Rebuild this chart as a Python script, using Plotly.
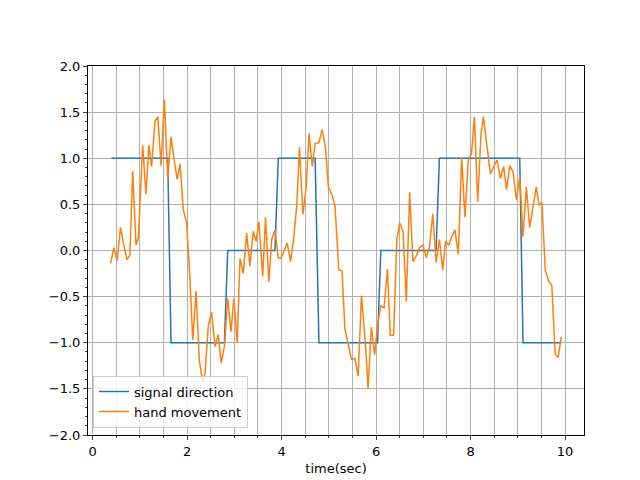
import plotly.graph_objects as go

# signal direction (step)
sig_x = [0.40, 1.59, 1.66, 2.79, 2.86, 3.86, 3.93, 4.71, 4.79, 6.03, 6.10, 7.27, 7.34, 9.04, 9.11, 9.92]
sig_y = [1, 1, -1, -1, 0, 0, 1, 1, -1, -1, 0, 0, 1, 1, -1, -1]

# hand movement
hand_x = [0.38, 0.45, 0.52, 0.59, 0.66, 0.73, 0.79, 0.85, 0.92, 0.97, 1.06, 1.13, 1.19, 1.25, 1.32, 1.38,
          1.45, 1.52, 1.59, 1.66, 1.72, 1.79, 1.85, 1.92, 1.99, 2.06, 2.12, 2.19, 2.26, 2.33, 2.38, 2.45,
          2.52, 2.59, 2.66, 2.72, 2.79, 2.86, 2.93, 2.99, 3.06, 3.12, 3.19, 3.26, 3.33, 3.40, 3.46, 3.52,
          3.60, 3.66, 3.73, 3.79, 3.86, 3.93, 3.99, 4.06, 4.12, 4.19, 4.26, 4.32, 4.38, 4.45, 4.52, 4.58,
          4.65, 4.71, 4.79, 4.86, 4.93, 4.99, 5.07, 5.13, 5.21, 5.28, 5.34, 5.41, 5.48, 5.55, 5.62, 5.69,
          5.77, 5.83, 5.90, 5.97, 6.03, 6.10, 6.17, 6.24, 6.30, 6.37, 6.44, 6.50, 6.57, 6.64, 6.71, 6.78,
          6.85, 6.92, 6.99, 7.06, 7.13, 7.20, 7.27, 7.34, 7.41, 7.47, 7.54, 7.60, 7.67, 7.74, 7.81, 7.88,
          7.95, 8.02, 8.08, 8.15, 8.22, 8.27, 8.34, 8.42, 8.49, 8.56, 8.63, 8.70, 8.76, 8.83, 8.90, 8.97,
          9.04, 9.11, 9.18, 9.25, 9.32, 9.39, 9.45, 9.51, 9.58, 9.65, 9.72, 9.79, 9.85, 9.92]
hand_y = [-0.14, 0.03, -0.11, 0.25, 0.06, -0.10, -0.05, 0.86, 0.06, 0.14, 1.14, 0.61, 1.14, 0.91, 1.40, 1.45,
          0.92, 1.64, 0.78, 1.23, 1.00, 0.77, 0.94, 0.44, 0.30, -0.30, -0.97, -0.44, -1.20, -1.42, -1.33, -0.81,
          -0.67, -1.04, -0.91, -1.22, -1.04, -0.52, -0.88, -0.52, -1.00, -0.09, -0.25, 0.19, -0.17, 0.21, 0.10, 0.31,
          -0.28, 0.36, -0.34, 0.12, 0.22, -0.08, -0.08, 0.00, 0.08, -0.12, 0.15, 0.48, 1.12, 0.39, 0.68, 1.27,
          0.91, 1.16, 1.17, 1.31, 1.11, 0.69, 0.60, 0.48, -0.21, -0.22, -0.85, -1.02, -1.18, -1.17, -1.36, -0.49,
          -0.99, -1.49, -0.83, -1.13, -0.81, -0.60, -0.62, -0.20, -0.92, -0.92, 0.12, 0.30, 0.21, -0.55, 0.63, -0.12,
          -0.06, 0.03, 0.06, -0.08, 0.04, 0.40, -0.13, 0.12, -0.21, 0.10, 0.06, 0.15, 0.22, -0.04, 1.01, 0.36,
          0.98, 1.05, 1.45, 0.53, 1.26, 1.45, 1.14, 0.83, 0.91, 0.98, 0.78, 0.91, 0.66, 0.92, 0.85, 0.55,
          0.80, 0.15, 0.69, 0.25, 0.47, 0.69, 0.49, 0.52, -0.21, -0.33, -0.38, -1.13, -1.16, -0.94]

fig = go.Figure()
fig.add_trace(go.Scatter(x=sig_x, y=sig_y, mode='lines', name='signal direction',
                         line=dict(color='#1f77b4', width=1.5)))
fig.add_trace(go.Scatter(x=hand_x, y=hand_y, mode='lines', name='hand movement',
                         line=dict(color='#ff7f0e', width=1.5)))

fig.update_layout(
  width=640, height=480,
  margin=dict(l=80, r=64, t=58, b=53, autoexpand=False),
  paper_bgcolor='white', plot_bgcolor='white',
  font=dict(family='DejaVu Sans', size=13, color='black'),
  legend=dict(x=0.01, y=0.02, xanchor='left', yanchor='bottom',
              bgcolor='rgba(255,255,255,0.8)', bordercolor='#cccccc', borderwidth=1,
              font=dict(size=13)),
)
fig.update_xaxes(
  range=[-0.097, 10.4], tickmode='linear', tick0=0, dtick=2, automargin=False,
  showgrid=True, gridcolor='#b0b0b0', gridwidth=1,
  minor=dict(dtick=0.5, tick0=0, showgrid=True, gridcolor='#b0b0b0', ticks='outside', ticklen=2),
  ticks='outside', ticklen=4, showline=True, linecolor='black', mirror=True,
  zeroline=False, title=dict(text='time(sec)', standoff=6, font=dict(size=13)),
)
fig.update_yaxes(
  range=[-2, 2], tickmode='linear', tick0=-2, dtick=0.5, tickformat='.1f', automargin=False,
  showgrid=True, gridcolor='#b0b0b0', gridwidth=1,
  minor=dict(dtick=0.1, ticks='outside', ticklen=2, showgrid=False),
  ticks='outside', ticklen=4, showline=True, linecolor='black', mirror=True,
  zeroline=False,
)

fig.write_html("out.html")
